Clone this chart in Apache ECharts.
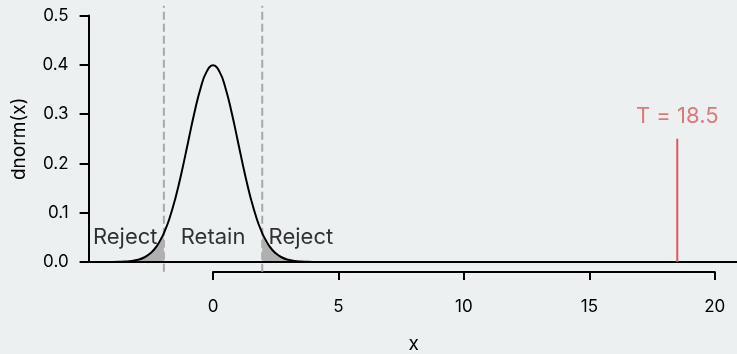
<!DOCTYPE html>
<html><head><meta charset="utf-8">
<script src="https://cdn.jsdelivr.net/npm/echarts@6/dist/echarts.min.js"></script>
<style>html,body{margin:0;padding:0;background:#ecf0f1}#c{width:737px;height:354px}</style>
</head><body><div id="c"></div>
<script>
// Density curve (x, dnorm(x))
var curveX = [-4,-3.75,-3.5,-3.25,-3,-2.75,-2.5,-2.25,-2,-1.96,-1.75,-1.5,-1.25,-1,-0.75,-0.5,-0.25,0,0.25,0.5,0.75,1,1.25,1.5,1.75,1.96,2,2.25,2.5,2.75,3,3.25,3.5,3.75,4];
var curveY = [0.0001,0.0004,0.0009,0.0020,0.0044,0.0091,0.0175,0.0317,0.0540,0.0584,0.0863,0.1295,0.1826,0.2420,0.3011,0.3521,0.3867,0.3989,0.3867,0.3521,0.3011,0.2420,0.1826,0.1295,0.0863,0.0584,0.0540,0.0317,0.0175,0.0091,0.0044,0.0020,0.0009,0.0004,0.0001];
var critical = [-1.96, 1.96];
var statT = 18.5;
var statTop = 0.25;
var statLabel = 'T = 18.5';
var statLabelY = 0.295;
var regionLabels = ['Reject', 'Retain', 'Reject'];
var regionLabelX = [-3.5, 0, 3.5];
var regionLabelY = 0.05;
var yTicks = [0, 0.1, 0.2, 0.3, 0.4, 0.5];
var xTicks = [0, 5, 10, 15, 20];
var xLim = [-4.96, 20.96];
var yLim = [-0.02, 0.52];

var curve = curveX.map(function(x, i){ return [x, curveY[i]]; });
var leftTail = curve.filter(function(p){ return p[0] <= critical[0]; });
var rightTail = curve.filter(function(p){ return p[0] >= critical[1]; });

var FONT = 'Inter';
var TXT = '#000000';
var chart = echarts.init(document.getElementById('c'));
var dashSeries = critical.map(function(c){
  return {type:'line', xAxisIndex:0, yAxisIndex:0, data:[[c, yLim[0]],[c, yLim[1]]], clip:false, symbol:'none',
    lineStyle:{color:'#a8a8a8', width:2, type:[8,4]}, silent:true, z:1};
});
chart.setOption({
  backgroundColor:'#ecf0f1',
  animation:false,
  grid:[
    {left:88.6, width:650.4, top:15.5, height:246.5, outerBoundsMode:'none', containLabel:false},
    {left:213, width:501.8, top:262, height:10, outerBoundsMode:'none', containLabel:false}
  ],
  xAxis:[
    {gridIndex:0, type:'value', min:xLim[0], max:xLim[1], axisLine:{show:false, onZero:false}, axisTick:{show:false}, axisLabel:{show:false}, splitLine:{show:false},
     name:'x', nameLocation:'middle', nameGap:73, nameTextStyle:{fontFamily:FONT, fontSize:19, color:TXT}},
    {gridIndex:1, type:'value', min:xTicks[0], max:xTicks[xTicks.length-1], interval:5, position:'bottom',
     axisLine:{show:true, onZero:false, lineStyle:{color:'#000', width:2}}, axisTick:{show:true, length:8, lineStyle:{color:'#000', width:2}},
     axisLabel:{fontFamily:FONT, fontSize:17, color:TXT, margin:26}, splitLine:{show:false}}
  ],
  yAxis:[
    {gridIndex:0, type:'value', min:yTicks[0], max:yTicks[yTicks.length-1], interval:0.1,
     axisLine:{show:true, onZero:false, lineStyle:{color:'#000', width:2}}, axisTick:{show:true, length:9, lineStyle:{color:'#000', width:2}},
     axisLabel:{fontFamily:FONT, fontSize:17, color:TXT, margin:20, formatter:function(v){return v.toFixed(1);}}, splitLine:{show:false},
     name:'dnorm(x)', nameLocation:'middle', nameGap:60, nameRotate:90, nameTextStyle:{fontFamily:FONT, fontSize:19, color:TXT}},
    {gridIndex:1, type:'value', show:false}
  ],
  series:[
    {type:'line', data:leftTail, smooth:true, symbol:'none', lineStyle:{width:0}, areaStyle:{color:'#b0b0b0', opacity:1}, z:2, silent:true},
    {type:'line', data:rightTail, smooth:true, symbol:'none', lineStyle:{width:0}, areaStyle:{color:'#b0b0b0', opacity:1}, z:2, silent:true},
    {type:'line', data:[[xLim[0],0],[xLim[1],0]], symbol:'none', lineStyle:{color:'#000', width:2}, z:3, silent:true},
    {type:'line', data:curve, smooth:true, symbol:'none', lineStyle:{color:'#000', width:2}, z:4, silent:true},
    {type:'line', data:[[statT,0],[statT,statTop]], symbol:'none', lineStyle:{color:'#d9595c', width:2}, z:4, silent:true},
    {type:'scatter', symbolSize:0, z:5, silent:true,
     data:regionLabels.map(function(t,i){ return {value:[regionLabelX[i], regionLabelY], name:t}; }),
     label:{show:true, position:'inside', formatter:'{b}', fontFamily:FONT, fontSize:22, color:TXT, textBorderWidth:0, textBorderColor:'transparent'}},
    {type:'scatter', symbolSize:0, z:5, silent:true,
     data:[{value:[statT, statLabelY], name:statLabel}],
     label:{show:true, position:'inside', formatter:'{b}', fontFamily:FONT, fontSize:22, color:'#d9595c', textBorderWidth:0, textBorderColor:'transparent'}}
  ].concat(dashSeries)
});
</script></body></html>
